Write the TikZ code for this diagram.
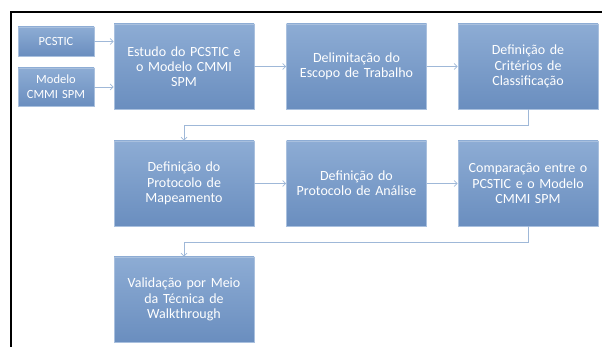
\documentclass[tikz,border=0pt]{standalone}
\usepackage{fontspec}
\setmainfont{Carlito}
\usetikzlibrary{arrows.meta}
\definecolor{boxtop}{HTML}{8DACD4}
\definecolor{boxbot}{HTML}{6A8EBF}
\definecolor{boxline}{HTML}{A9C0DE}
\definecolor{conn}{HTML}{9FB8D8}
\tikzset{
  flowbox/.style={draw=boxline, line width=0.6pt, top color=boxtop, bottom color=boxbot,
    text=white, align=center, inner sep=2pt, font=\fontsize{14}{15.3}\selectfont,
    minimum width=140pt, minimum height=85pt, text width=136pt},
  inbox/.style={flowbox, minimum width=74pt, text width=72pt, font=\fontsize{12.5}{15}\selectfont},
  conn/.style={draw=conn, line width=0.7pt, -{Straight Barb[length=3pt,width=6pt]}}
}
\begin{document}
\begin{tikzpicture}[x=1pt,y=-1pt]
\useasboundingbox (0,0) rectangle (602,347);
\draw[line width=2pt] (11,347) -- (11,12) -- (602,12);
\node[inbox, minimum height=29pt] (pc) at (56,41.5) {PCSTIC};
\node[inbox, minimum height=38pt] (mo) at (56,87) {Modelo\\CMMI SPM};
\node[flowbox] (est) at (184,66.5) {Estudo do PCSTIC e\\o Modelo CMMI\\SPM};
\node[flowbox] (del) at (356.5,66.5) {Delimitação do\\Escopo de Trabalho};
\node[flowbox] (cri) at (528,66.5) {Definição de\\Critérios de\\Classificação};
\node[flowbox] (map) at (184,183.5) {Definição do\\Protocolo de\\Mapeamento};
\node[flowbox] (ana) at (356.5,183.5) {Definição do\\Protocolo de Análise};
\node[flowbox] (com) at (528,183.5) {Comparação entre o\\PCSTIC e o Modelo\\CMMI SPM};
\node[flowbox] (val) at (184,299.5) {Validação por Meio\\da Técnica de\\Walkthrough};
\draw[conn] (pc) -- (pc -| est.west);
\draw[conn] (mo) -- (mo -| est.west);
\draw[conn] (est) -- (del);
\draw[conn] (del) -- (cri);
\draw[conn] (cri.south) -- ++(0,16.5) -| (map.north);
\draw[conn] (map) -- (ana);
\draw[conn] (ana) -- (com);
\draw[conn] (com.south) -- ++(0,16.5) -| (val.north);
\end{tikzpicture}
\end{document}
